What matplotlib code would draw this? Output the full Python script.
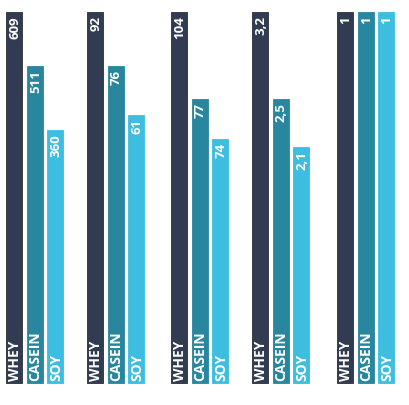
import matplotlib
matplotlib.use("Agg")
import matplotlib.pyplot as plt

# Data
categories = ["WHEY", "CASEIN", "SOY"]
value_labels = [
    ["609", "511", "360"],
    ["92", "76", "61"],
    ["104", "77", "74"],
    ["3,2", "2,5", "2,1"],
    ["1", "1", "1"],
]
# relative bar heights as drawn (WHEY = 1 in each group)
bar_heights = [
    [1.00, 0.854, 0.682],
    [1.00, 0.854, 0.722],
    [1.00, 0.766, 0.658],
    [1.00, 0.766, 0.636],
    [1.00, 1.00, 1.00],
]
colors = ["#313c52", "#28879f", "#3dbde0"]

W, H = 410, 405
fig = plt.figure(figsize=(W / 100, H / 100), dpi=100)
ax = fig.add_axes([0, 0, 1, 1])
scale = 371.0  # pixels per unit height
bottom_px = 383
ax.set_xlim(0, W)
ax.set_ylim(-(H - bottom_px) / scale, bottom_px / scale)
ax.axis("off")

group_centers = [35, 116, 200, 281, 366]
offset = 20.5
bar_w = 16

font = ["Open Sans", "DejaVu Sans"]
for g, gc in enumerate(group_centers):
    for i, cat in enumerate(categories):
        x = gc + (i - 1) * offset
        h = bar_heights[g][i]
        ax.bar(x, h, width=bar_w, color=colors[i], edgecolor="#2a2f3a" if i == 0 else colors[i],
               linewidth=0.6, bottom=0)
        ax.text(x + 0.5, h - 4 / scale, value_labels[g][i], rotation=90, ha="center", va="top",
                color="white", fontsize=9.5, fontweight="bold", family=font)
        ax.text(x + 0.5, 2 / scale, cat, rotation=90, ha="center", va="bottom",
                color="white", fontsize=10, fontweight="bold", family=font)

fig.savefig("out.png", dpi=100, facecolor="white")
